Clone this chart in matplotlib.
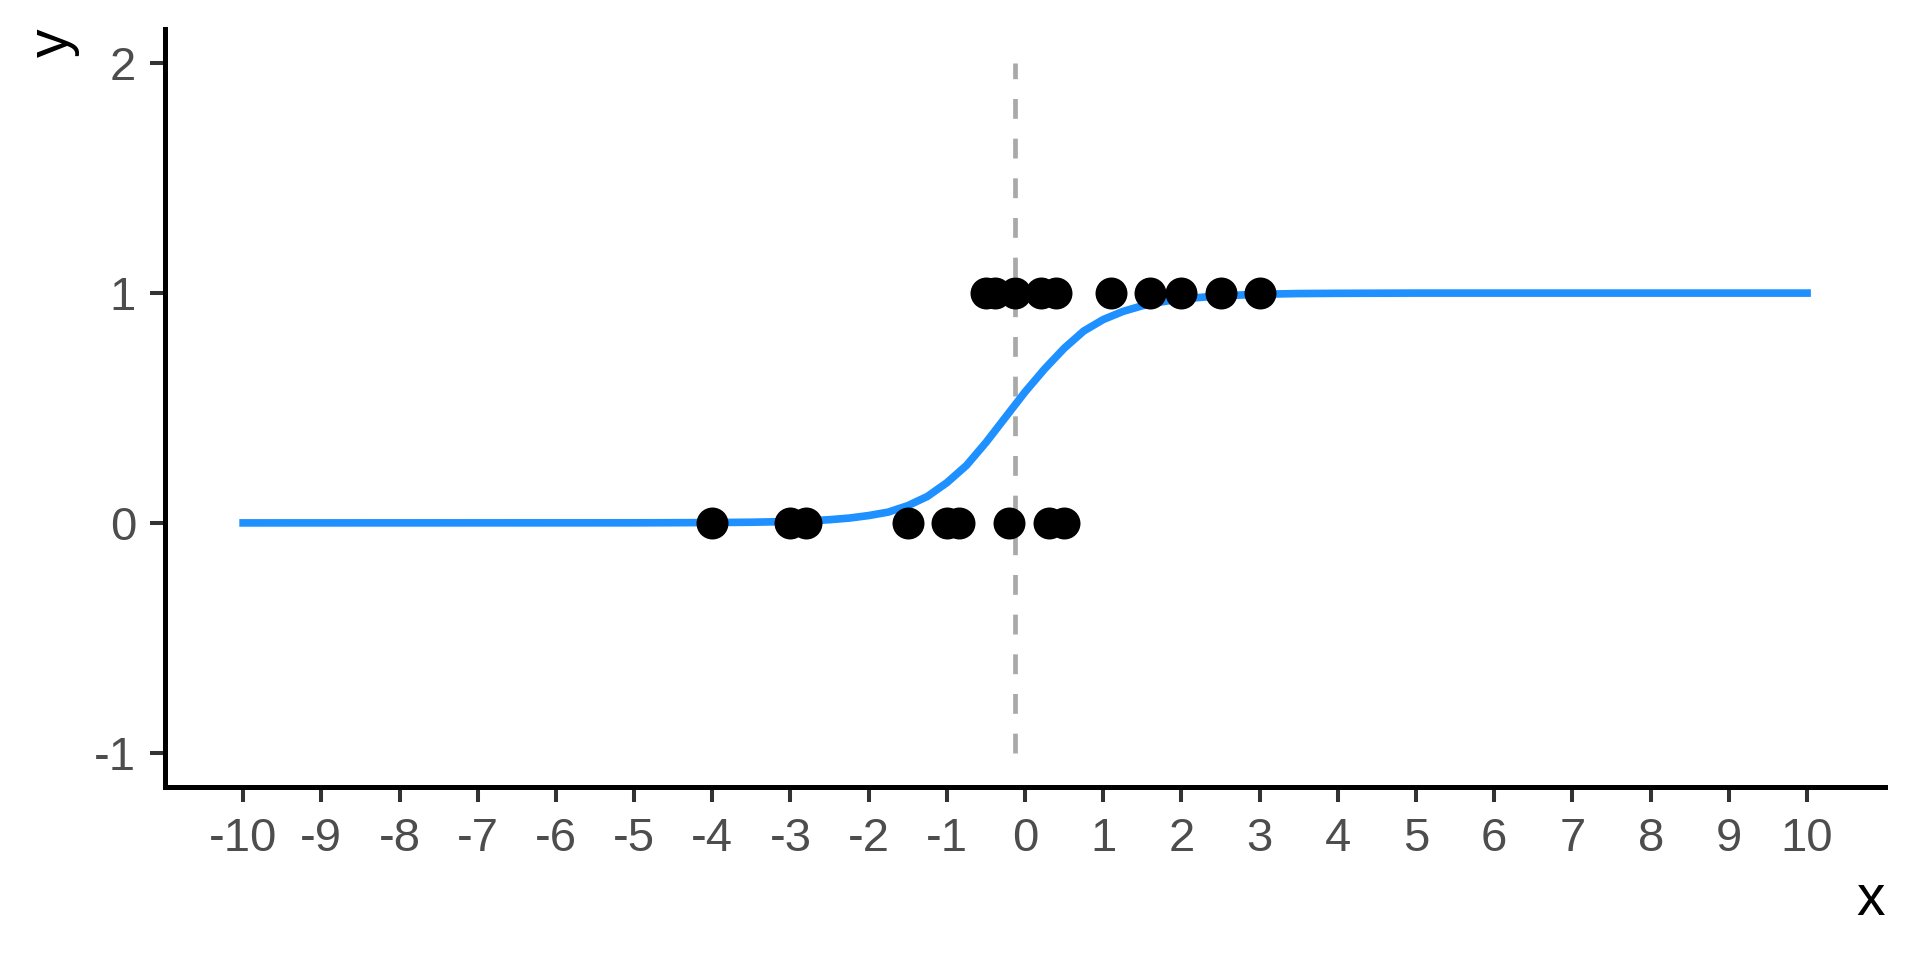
import numpy as np
import matplotlib.pyplot as plt

plt.rcParams['font.family'] = ['Liberation Sans', 'DejaVu Sans']

x_zero = [-4.0, -3.0, -2.8, -1.5, -1.0, -0.85, -0.2, 0.3, 0.5]
y_zero = [0] * len(x_zero)
x_one = [-0.5, -0.39, -0.13, 0.2, 0.4, 1.1, 1.6, 2.0, 2.5, 3.0]
y_one = [1] * len(x_one)

# Fitted logistic curve
curve_x = [-10, -5, -4, -3.5, -3, -2.75, -2.5, -2.25, -2, -1.75, -1.5, -1.25,
           -1, -0.75, -0.5, -0.25, 0, 0.25, 0.5, 0.75, 1, 1.25, 1.5, 1.75,
           2, 2.5, 3, 3.5, 4, 5, 10]
curve_y = [0, 0.0003, 0.0015, 0.003, 0.006, 0.009, 0.014, 0.021, 0.032, 0.047,
           0.075, 0.115, 0.175, 0.25, 0.35, 0.46, 0.57, 0.67, 0.76, 0.835, 0.885,
           0.92, 0.945, 0.962, 0.975, 0.988, 0.995, 0.998, 0.999, 1.0, 1.0]

# Dashed reference line
vline_x = -0.13
vline_y = [-1, 2]

x_ticks = list(range(-10, 11))
y_ticks = [-1, 0, 1, 2]

fig = plt.figure(figsize=(19.2, 9.6), dpi=100)
ax = fig.add_axes([0.0859, 0.180, 0.896, 0.790])

ax.plot([vline_x, vline_x], vline_y, color='#A9A9A9', lw=3.4,
        linestyle=(0, (4.2, 4.2)), solid_capstyle='butt', dash_capstyle='butt', zorder=1)
ax.plot(curve_x, curve_y, color='#1E90FF', lw=5.5, zorder=2)
ax.scatter(x_zero, y_zero, s=530, color='black', linewidths=0, zorder=3)
ax.scatter(x_one, y_one, s=530, color='black', linewidths=0, zorder=3)

ax.set_xlim(-11, 11)
ax.set_ylim(-1.15, 2.15)
ax.set_xticks(x_ticks)
ax.set_xticklabels([str(v) for v in x_ticks])
ax.set_yticks(y_ticks)
ax.set_yticklabels([str(v) for v in y_ticks])

for side in ['top', 'right']:
    ax.spines[side].set_visible(False)
for side in ['left', 'bottom']:
    ax.spines[side].set_linewidth(3.6)
    ax.spines[side].set_color('black')

ax.tick_params(axis='both', length=10.8, width=2.9, color='#333333',
               labelcolor='#4D4D4D', labelsize=34)
ax.tick_params(axis='x', pad=11)
ax.tick_params(axis='y', pad=10)

ax.set_xlabel('x', loc='right', fontsize=41, labelpad=8)
ax.set_ylabel('y', loc='top', fontsize=41, labelpad=10)

fig.savefig('out.png', dpi=100)
